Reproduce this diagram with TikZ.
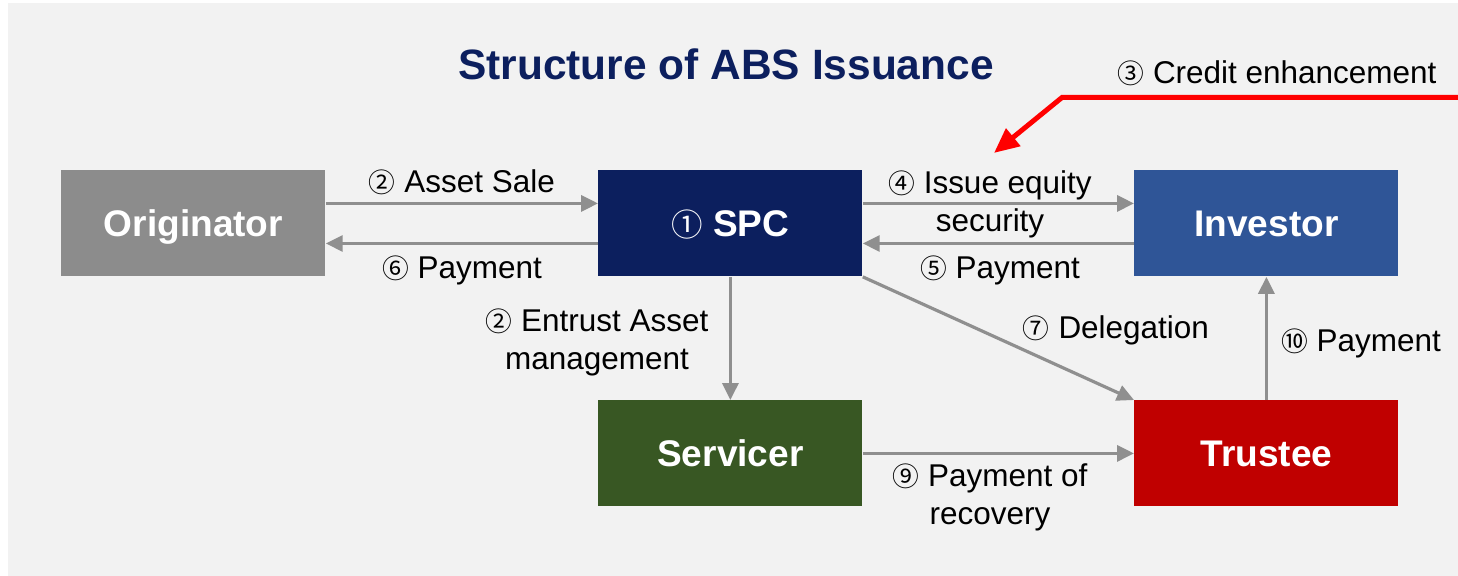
\documentclass[tikz,border=0pt]{standalone}
\usepackage{fontspec}
\setmainfont{Liberation Sans}
\newfontfamily\circfont[Scale=0.85]{Noto Sans CJK JP}
\usepackage{tikz}
\usetikzlibrary{arrows.meta}
\usetikzlibrary{positioning}
\usepackage{color}

\definecolor{bggrey}{HTML}{F2F2F2}
\definecolor{origgrey}{HTML}{8C8C8C}
\definecolor{spcnavy}{HTML}{0C1F5E}
\definecolor{invblue}{HTML}{2F5597}
\definecolor{servgreen}{HTML}{385723}
\definecolor{trustred}{HTML}{C00000}
\definecolor{flowgrey}{HTML}{8F8F8F}
\definecolor{credred}{HTML}{FF0000}

\newcommand{\cnum}[1]{{\circfont #1}}

\tikzset{
  box/.style={anchor=north west,inner sep=0pt,minimum width=1.833in,minimum height=0.736in,
    text height=13.4pt,text depth=0pt,text=white,font=\fontsize{18.6}{22}\selectfont\bfseries},
  flow/.style={draw=flowgrey,line width=1.6pt,-{Triangle[length=8.5pt,width=8pt]}},
  lbl/.style={inner sep=0pt,align=center,font=\fontsize{15.8}{19.1}\selectfont},
}

\begin{document}
\begin{tikzpicture}
    \useasboundingbox (0,0) rectangle (10.125in,4in);
    \fill[bggrey] (0.056in,0) rectangle (10.125in,3.981in);

    \node[anchor=base,inner sep=0pt,text=spcnavy,font=\fontsize{21.3}{25}\selectfont\bfseries] (title) at (5.042in,3.451in) {Structure of ABS Issuance};

    \node[box,fill=origgrey] (orig) at (0.424in,2.819in) {Originator};
    \node[box,fill=spcnavy] (spc) at (4.153in,2.819in) {{\mdseries\cnum{①}} SPC};
    \node[box,fill=invblue] (inv) at (7.875in,2.819in) {Investor};
    \node[box,fill=servgreen] (serv) at (4.153in,1.222in) {Servicer};
    \node[box,fill=trustred] (trust) at (7.875in,1.222in) {Trustee};

    \draw[flow] ([yshift=0.139in]orig.east) -- ([yshift=0.139in]spc.west);
    \draw[flow] ([yshift=-0.139in]spc.west) -- ([yshift=-0.139in]orig.east);
    \draw[flow] ([yshift=0.139in]spc.east) -- ([yshift=0.139in]inv.west);
    \draw[flow] ([yshift=-0.139in]inv.west) -- ([yshift=-0.139in]spc.east);
    \draw[flow] (spc.south) -- (serv.north);
    \draw[flow] (spc.south east) -- (trust.north west);
    \draw[flow] (serv.east) -- (trust.west);
    \draw[flow] (trust.north) -- (inv.south);

    \node[lbl,anchor=base] (salelbl) at (3.208in,2.660in) {\cnum{②} Asset Sale};
    \node[lbl,anchor=base] (paysix) at (3.208in,2.069in) {\cnum{⑥} Payment};
    \node[lbl] (issuelbl) at (6.875in,2.583in) {\cnum{④} Issue equity\\security};
    \node[lbl,anchor=base] (payfive) at (6.944in,2.069in) {\cnum{⑤} Payment};
    \node[lbl] (entrustlbl) at (4.146in,1.625in) {\cnum{②} Entrust Asset\\management};
    \node[lbl,anchor=base] (delelbl) at (7.75in,1.646in) {\cnum{⑦} Delegation};
    \node[lbl] (recovlbl) at (6.875in,0.544in) {\cnum{⑨} Payment of\\recovery};
    \node[lbl,anchor=base] (payten) at (9.451in,1.558in) {\cnum{⑩} Payment};
    \node[lbl,anchor=base] (credlbl) at (8.868in,3.417in) {\cnum{③} Credit enhancement};

    \coordinate (credstart) at (10.125in,3.323in);
    \coordinate (credbend) at (7.375in,3.323in);
    \coordinate (credtip) at (6.903in,2.938in);
    \draw[credred,line width=2.5pt,-{Triangle[length=12.5pt,width=11pt]}] (credstart) -- (credbend) -- (credtip);
\end{tikzpicture}
\end{document}
